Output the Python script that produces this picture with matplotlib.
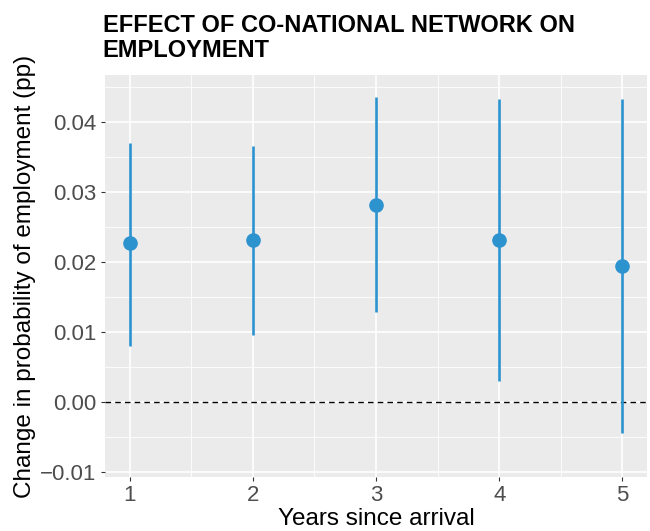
import matplotlib
matplotlib.use("Agg")
import matplotlib.pyplot as plt
from matplotlib.ticker import MultipleLocator

# datos
years = [1, 2, 3, 4, 5]
estimate = [0.0227, 0.0231, 0.0281, 0.0231, 0.0194]
ci_low = [0.0080, 0.0096, 0.0129, 0.0030, -0.0044]
ci_high = [0.0370, 0.0366, 0.0436, 0.0433, 0.0433]
yticks = [-0.01, 0.00, 0.01, 0.02, 0.03, 0.04]
ytick_labels = ["\u22120.01", "0.00", "0.01", "0.02", "0.03", "0.04"]

plt.rcParams['font.family'] = ['Liberation Sans', 'DejaVu Sans']
color = "#2D93CE"

fig = plt.figure(figsize=(6.5, 5.31), dpi=100)
ax = fig.add_axes([0.1615, 0.1017, 0.834, 0.757])
ax.set_facecolor("#EBEBEB")

ax.vlines(years, ci_low, ci_high, color=color, linewidth=1.9, zorder=3)
ax.plot(years, estimate, 'o', color=color, markersize=9.5, zorder=4)
ax.axhline(0, color="black", linestyle=(0, (4, 3)), linewidth=1.0, zorder=2)

ax.set_xlim(0.8, 5.2)
ax.set_ylim(-0.0107, 0.0467)
ax.set_xticks(years)
ax.set_yticks(yticks)
ax.set_yticklabels(ytick_labels)
ax.xaxis.set_minor_locator(MultipleLocator(0.5))
ax.yaxis.set_minor_locator(MultipleLocator(0.005))

ax.grid(which="major", color="white", linewidth=1.2, zorder=0)
ax.grid(which="minor", color="white", linewidth=0.6, zorder=0)
ax.set_axisbelow(True)
for s in ax.spines.values():
    s.set_visible(False)
ax.tick_params(which="major", length=3, width=0.8, color="#333333",
               labelsize=16, labelcolor="#4D4D4D", pad=3)
ax.tick_params(which="minor", length=0)

ax.set_xlabel("Years since arrival", fontsize=17.5, labelpad=1)
ax.set_ylabel("Change in probability of employment (pp)", fontsize=17.5, labelpad=3)

fig.text(0.158, 0.974, "EFFECT OF CO-NATIONAL NETWORK ON\nEMPLOYMENT",
         fontsize=17, fontweight="bold", va="top", ha="left", linespacing=1.12)

fig.savefig("out.png", dpi=100)
